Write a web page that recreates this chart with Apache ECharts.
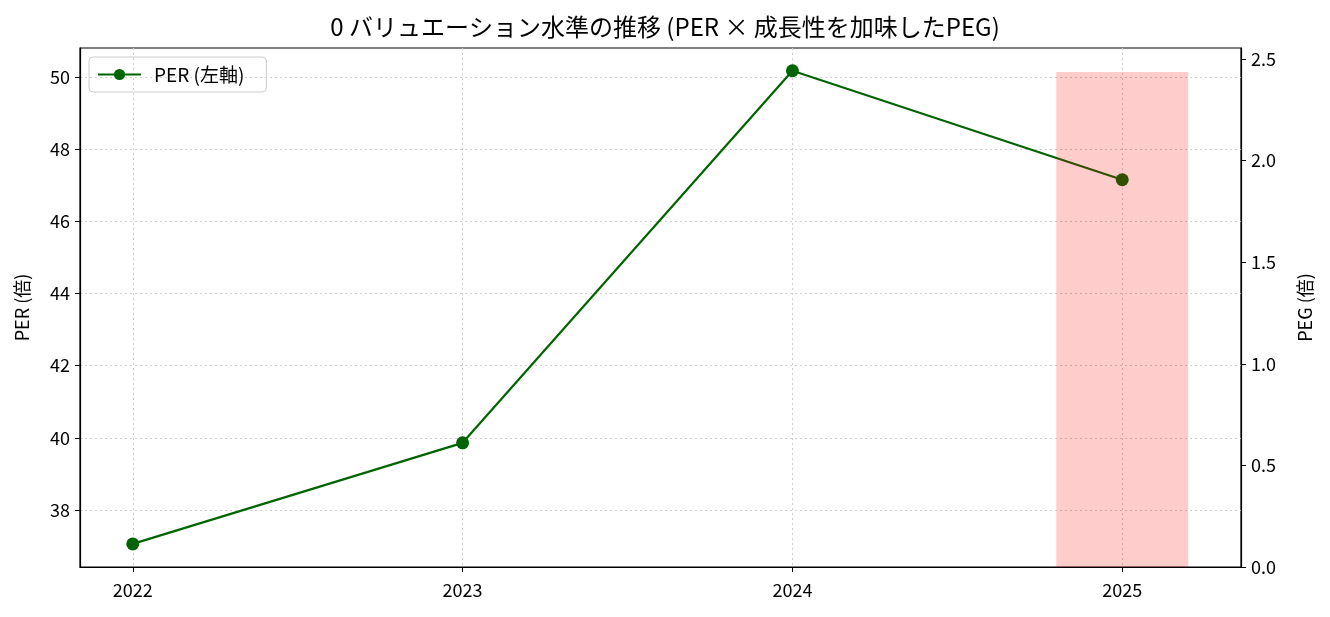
<!DOCTYPE html>
<html>
<head>
<meta charset="utf-8">
<script src="https://cdn.jsdelivr.net/npm/echarts@6/dist/echarts.min.js"></script>
<style>html,body{margin:0;padding:0;background:#fff}#c{width:1330px;height:617px}</style>
</head>
<body>
<div id="c"></div>
<script>
const years = [2022, 2023, 2024, 2025];
const perValues = [37.06, 39.86, 50.17, 47.15];
const pegYears = [2025];
const pegValues = [2.436];
const perTicks = [38, 40, 42, 44, 46, 48, 50];
const pegTicks = [0, 0.5, 1.0, 1.5, 2.0, 2.5];

const FONT = "'Noto Sans CJK JP', 'DejaVu Sans', sans-serif";
const chart = echarts.init(document.getElementById('c'), null, {renderer: 'canvas'});
const gridLine = {show: true, lineStyle: {color: '#cfcfcf', type: [2, 3], width: 1}};
chart.setOption({
  animation: false,
  backgroundColor: '#fff',
  textStyle: {fontFamily: FONT},
  title: {
    text: '0 バリュエーション水準の推移 (PER × 成長性を加味したPEG)',
    left: 'center', top: 10,
    textStyle: {fontFamily: FONT, fontSize: 24, fontWeight: 'normal', color: '#000'}
  },
  legend: {
    left: 89, top: 57,
    data: ['PER (左軸)'],
    itemWidth: 43, itemHeight: 14, itemGap: 8,
    padding: [8, 22, 8, 8],
    borderColor: '#cccccc', borderWidth: 1, borderRadius: 4,
    textStyle: {fontFamily: FONT, fontSize: 19, color: '#000', padding: [0, 0, 0, 8]}
  },
  grid: {left: 80, right: 89, top: 48, bottom: 50, show: true, borderColor: '#000', borderWidth: 1.2, backgroundColor: 'transparent'},
  xAxis: {
    type: 'value', min: 2021.84, max: 2025.36,
    axisLine: {show: true, lineStyle: {color: '#000', width: 1.2}},
    axisTick: {show: true, inside: false, length: 5, lineStyle: {color: '#000'}, customValues: years},
    axisLabel: {customValues: years, color: '#000', fontSize: 18, margin: 14, fontFamily: FONT, formatter: v => String(v)},
    splitLine: gridLine
  },
  yAxis: [
    {
      type: 'value', min: 36.42, max: 50.80,
      name: 'PER (倍)', nameLocation: 'middle', nameGap: 49, nameRotate: 90,
      nameTextStyle: {fontFamily: FONT, fontSize: 18, color: '#000'},
      axisLine: {show: true, lineStyle: {color: '#000', width: 1.2}},
      axisTick: {show: true, inside: false, length: 5, lineStyle: {color: '#000'}, customValues: perTicks},
      axisLabel: {customValues: perTicks, color: '#000', fontSize: 18, margin: 10, fontFamily: FONT},
      splitLine: gridLine
    },
    {
      type: 'value', min: 0, max: 2.554, interval: 0.5, position: 'right',
      name: 'PEG (倍)', nameLocation: 'middle', nameGap: 55, nameRotate: 90,
      nameTextStyle: {fontFamily: FONT, fontSize: 18, color: '#000'},
      axisLine: {show: true, lineStyle: {color: '#000', width: 1.2}},
      axisTick: {show: true, inside: false, length: 5, lineStyle: {color: '#000'}},
      axisLabel: {color: '#000', fontSize: 18, margin: 10, fontFamily: FONT, formatter: v => v.toFixed(1)},
      splitLine: {show: false}
    }
  ],
  series: [
    {
      name: 'PER (左軸)', type: 'line', yAxisIndex: 0, z: 2,
      data: years.map((y, i) => [y, perValues[i]]),
      color: '#006400',
      lineStyle: {color: '#006400', width: 2.2},
      symbol: 'circle', symbolSize: 13,
      itemStyle: {color: '#006400'}
    },
    {
      name: 'PEG', type: 'bar', yAxisIndex: 1, z: 3,
      data: pegYears.map((y, i) => [y, pegValues[i]]),
      barWidth: 132,
      itemStyle: {color: 'rgba(255,0,0,0.2)'}
    }
  ]
});
</script>
</body>
</html>
